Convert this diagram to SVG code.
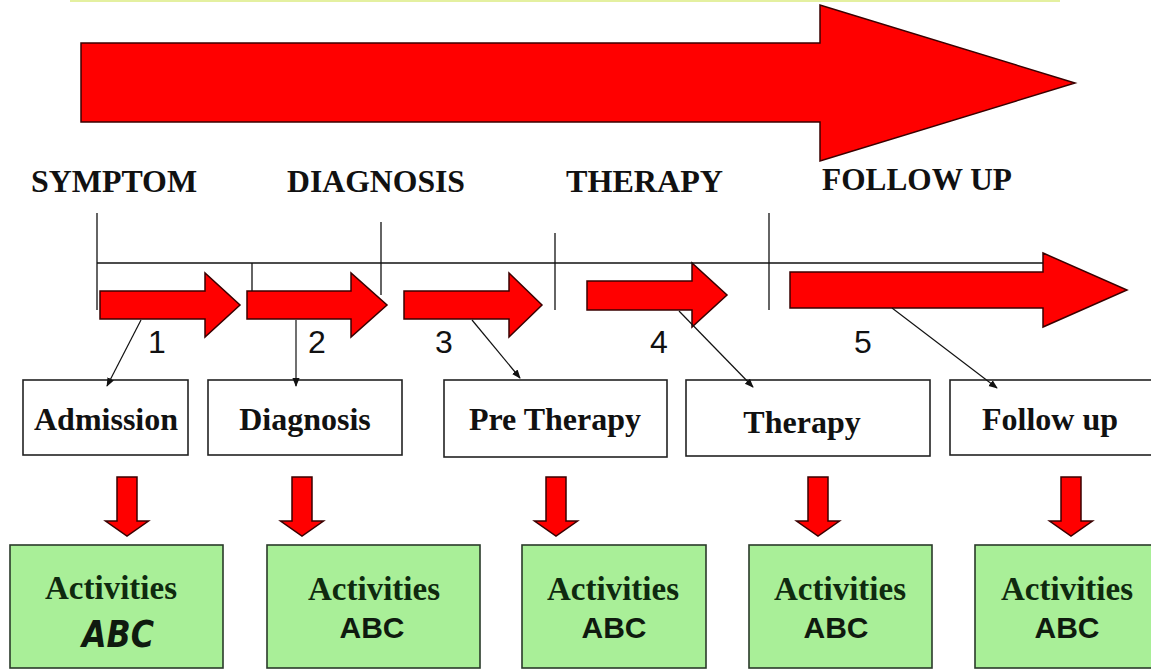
<svg xmlns="http://www.w3.org/2000/svg" xmlns:xlink="http://www.w3.org/1999/xlink" width="1151" height="670" viewBox="0 0 1151 670">
<style>
.red{fill:#ff0000;stroke:#3a0000;stroke-width:1.5;stroke-linejoin:miter}
.hdr{font-family:"Liberation Serif","Times New Roman",serif;font-weight:bold;font-size:32px;fill:#111}
.lbl{font-family:"Liberation Serif","Times New Roman",serif;font-weight:bold;font-size:32px;fill:#111;text-anchor:middle}
.num{font-family:"Liberation Sans",Arial,sans-serif;font-size:32px;fill:#111;text-anchor:middle}
.box{fill:#ffffff;stroke:#222;stroke-width:1.6}
.gbox{fill:#a9ef98;stroke:#2a3a2a;stroke-width:1.6}
.act{font-family:"Liberation Serif","Times New Roman",serif;font-weight:bold;font-size:33px;fill:#0f2a0f;text-anchor:middle}
.abc{font-family:"Liberation Sans",Arial,sans-serif;font-weight:bold;font-size:30px;fill:#0f1a0f;text-anchor:middle}
.abc1{font-family:"DejaVu Sans","Liberation Sans",sans-serif;font-weight:bold;font-style:oblique;font-size:38px;fill:#0f1a0f}
.ln{stroke:#111;stroke-width:1.3;fill:none}
.con{stroke:#111;stroke-width:1.2;fill:none;marker-end:url(#ah)}
</style>
<defs>
<marker id="ah" viewBox="0 0 10 10" refX="9" refY="5" markerWidth="9" markerHeight="9" markerUnits="userSpaceOnUse" orient="auto">
<path d="M0,1 L10,5 L0,9 Z" fill="#111"/>
</marker>
<path id="down" d="M-10,0 H10 V44 H21.5 L0,59 L-21.5,44 H-10 Z"/>
</defs>
<rect x="0" y="0" width="1151" height="670" fill="#ffffff"/>
<rect x="70" y="0" width="990" height="2" fill="#e4f0a0"/>

<g id="big-arrow">
<path class="red" d="M81,43 H820 V5 L1075,83 L820,161 V122 H81 Z"/>
</g>

<g id="headers">
<text class="hdr" x="31" y="192" textLength="166" lengthAdjust="spacingAndGlyphs">SYMPTOM</text>
<text class="hdr" x="287" y="192" textLength="178" lengthAdjust="spacingAndGlyphs">DIAGNOSIS</text>
<text class="hdr" x="566" y="192" textLength="157" lengthAdjust="spacingAndGlyphs">THERAPY</text>
<text class="hdr" x="822" y="190" textLength="190" lengthAdjust="spacingAndGlyphs">FOLLOW UP</text>
</g>

<g id="step-arrows">
<path class="red" d="M100,291 H205 V273 L240,305 L205,337 V319 H100 Z"/>
<path class="red" d="M247,291 H351 V273 L387,305 L351,337 V319 H247 Z"/>
<path class="red" d="M404,291 H509 V273 L542,305 L509,337 V319 H404 Z"/>
<path class="red" d="M587,281 H692 V263 L727,295 L692,327 V310 H587 Z"/>
<path class="red" d="M790,272 H1043 V253 L1127,290 L1043,327 V308 H790 Z"/>
</g>

<g id="timeline">
<line class="ln" x1="97" y1="263" x2="1043" y2="263"/>
<line class="ln" x1="97" y1="213" x2="97" y2="310"/>
<line class="ln" x1="252" y1="263" x2="252" y2="291"/>
<line class="ln" x1="381" y1="222" x2="381" y2="295"/>
<line class="ln" x1="555" y1="233" x2="555" y2="310"/>
<line class="ln" x1="769" y1="213" x2="769" y2="310"/>
</g>

<g id="numbers">
<text class="num" x="157" y="353">1</text>
<text class="num" x="317" y="353">2</text>
<text class="num" x="444" y="353">3</text>
<text class="num" x="659" y="353">4</text>
<text class="num" x="863" y="353">5</text>
</g>

<g id="node-admission">
<rect class="box" x="23" y="380" width="165" height="75"/>
<text class="lbl" x="106" y="430">Admission</text>
</g>
<g id="node-diagnosis">
<rect class="box" x="208" y="380" width="194" height="75"/>
<text class="lbl" x="305" y="430">Diagnosis</text>
</g>
<g id="node-pretherapy">
<rect class="box" x="444" y="380" width="223" height="77"/>
<text class="lbl" x="555" y="430">Pre Therapy</text>
</g>
<g id="node-therapy">
<rect class="box" x="686" y="380" width="244" height="76"/>
<text class="lbl" x="802" y="433">Therapy</text>
</g>
<g id="node-followup">
<rect class="box" x="950" y="380" width="210" height="75"/>
<text class="lbl" x="1050" y="430">Follow up</text>
</g>

<g id="connectors">
<line class="con" x1="141" y1="320" x2="107" y2="386"/>
<line class="con" x1="296" y1="320" x2="296" y2="386"/>
<line class="con" x1="472" y1="320" x2="520" y2="378"/>
<line class="con" x1="679" y1="311" x2="753" y2="387"/>
<line class="con" x1="892" y1="308" x2="997" y2="388"/>
</g>

<g id="down-arrows">
<use xlink:href="#down" href="#down" class="red" x="127" y="477"/>
<use xlink:href="#down" href="#down" class="red" x="302" y="477"/>
<use xlink:href="#down" href="#down" class="red" x="556" y="477"/>
<use xlink:href="#down" href="#down" class="red" x="818" y="477"/>
<use xlink:href="#down" href="#down" class="red" x="1071" y="477"/>
</g>

<g id="node-act1">
<rect class="gbox" x="10" y="545" width="213" height="123"/>
<text class="act" x="111" y="599">Activities</text>
<text class="abc1" x="82" y="647" textLength="72" lengthAdjust="spacingAndGlyphs">ABC</text>
</g>
<g id="node-act2">
<rect class="gbox" x="267" y="545" width="213" height="123"/>
<text class="act" x="374" y="600">Activities</text>
<text class="abc" x="372" y="638">ABC</text>
</g>
<g id="node-act3">
<rect class="gbox" x="522" y="545" width="184" height="123"/>
<text class="act" x="613" y="600">Activities</text>
<text class="abc" x="614" y="638">ABC</text>
</g>
<g id="node-act4">
<rect class="gbox" x="749" y="545" width="183" height="123"/>
<text class="act" x="840" y="600">Activities</text>
<text class="abc" x="836" y="638">ABC</text>
</g>
<g id="node-act5">
<rect class="gbox" x="975" y="545" width="185" height="123"/>
<text class="act" x="1067" y="600">Activities</text>
<text class="abc" x="1067" y="638">ABC</text>
</g>
</svg>
